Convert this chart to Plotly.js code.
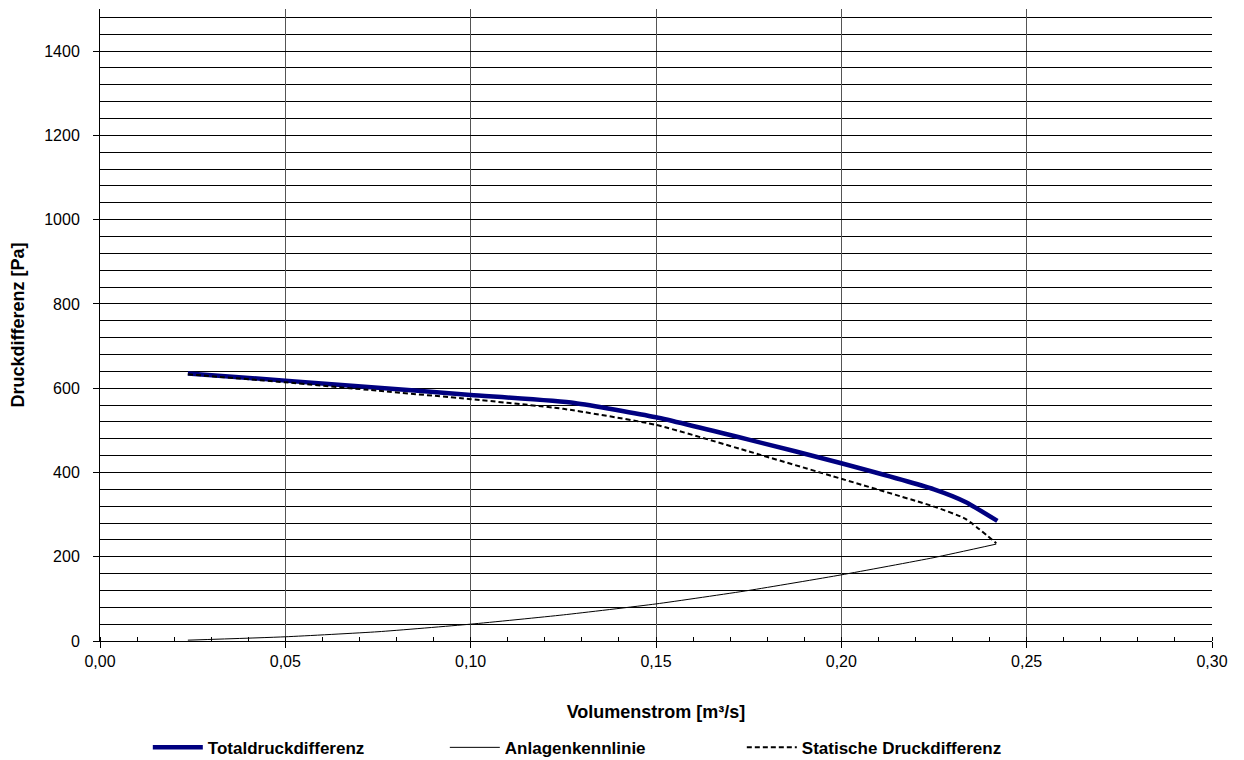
<!DOCTYPE html>
<html>
<head>
<meta charset="utf-8">
<script src="https://cdn.plot.ly/plotly-3.0.1.min.js"></script>
<style>html,body{margin:0;padding:0;background:#fff;}#chart{width:1244px;height:760px;}</style>
</head>
<body>
<div id="chart"></div>
<script>
// Totaldruckdifferenz
const totalX = [0.0237, 0.05, 0.075, 0.10, 0.128, 0.15, 0.175, 0.20, 0.225, 0.2335, 0.2421];
const totalY = [635, 618, 601, 584, 565, 531, 478, 422, 360, 330, 285];
// Anlagenkennlinie
const anlageX = [0.0237, 0.05, 0.075, 0.10, 0.125, 0.15, 0.175, 0.20, 0.225, 0.2418];
const anlageY = [2, 10, 22, 40, 62, 88, 120, 157, 198, 230];
// Statische Druckdifferenz
const statX = [0.0237, 0.05, 0.075, 0.10, 0.125, 0.15, 0.175, 0.20, 0.225, 0.2335, 0.2418];
const statY = [633, 614, 594, 574, 551, 513, 450, 385, 319, 290, 232];

const seriesNames = ['Totaldruckdifferenz', 'Anlagenkennlinie', 'Statische Druckdifferenz'];
const xTitle = 'Volumenstrom [m³/s]';
const yTitle = 'Druckdifferenz [Pa]';

const font = "'Liberation Sans', Arial, sans-serif";

const traces = [
  {x: totalX, y: totalY, name: seriesNames[0], mode: 'lines',
   line: {color: '#000080', width: 4.5, shape: 'spline', smoothing: 0.5}},
  {x: anlageX, y: anlageY, name: seriesNames[1], mode: 'lines',
   line: {color: '#000000', width: 1, shape: 'spline', smoothing: 0.5}},
  {x: statX, y: statY, name: seriesNames[2], mode: 'lines',
   line: {color: '#000000', width: 2, dash: '5px,3px', shape: 'spline', smoothing: 0.5}}
];

const layout = {
  width: 1244, height: 760,
  margin: {l: 100, r: 32, t: 9, b: 119, autoexpand: false},
  paper_bgcolor: '#ffffff', plot_bgcolor: '#ffffff',
  separators: ', ',
  font: {family: font, size: 16, color: '#000'},
  showlegend: true,
  legend: {orientation: 'h', x: 0.043, xanchor: 'left', y: -0.169, yanchor: 'middle',
           font: {family: font, size: 17, color: '#000', weight: 'bold'},
           entrywidth: 232, entrywidthmode: 'pixels', itemwidth: 50},
  xaxis: {
    range: [0, 0.30], dtick: 0.05, tick0: 0, tickformat: '.2f',
    showgrid: true, gridcolor: '#555555', gridwidth: 1,
    zeroline: false, showline: true, linecolor: '#000', linewidth: 1,
    ticks: 'outside', ticklen: 6, tickcolor: '#000',
    minor: {dtick: 0.01, ticks: 'inside', ticklen: 4, tickcolor: '#000', showgrid: false},
    tickfont: {family: font, size: 16, color: '#000'},
    title: {text: xTitle, font: {family: font, size: 18, color: '#000', weight: 'bold'}, standoff: 36},
    automargin: false, fixedrange: true
  },
  yaxis: {
    range: [0, 1500], dtick: 200, tick0: 0,
    showgrid: true, gridcolor: '#000000', gridwidth: 1,
    zeroline: false, showline: true, linecolor: '#000', linewidth: 1,
    ticks: 'outside', ticklen: 6, tickcolor: '#000', ticklabelstandoff: 10,
    minor: {dtick: 40, showgrid: true, gridcolor: '#000000', gridwidth: 1, ticks: ''},
    tickfont: {family: font, size: 16, color: '#000'},
    title: {text: yTitle, font: {family: font, size: 18, color: '#000', weight: 'bold'}, standoff: 14},
    automargin: false, fixedrange: true
  }
};

Plotly.newPlot('chart', traces, layout, {displayModeBar: false, staticPlot: true});
</script>
</body>
</html>
